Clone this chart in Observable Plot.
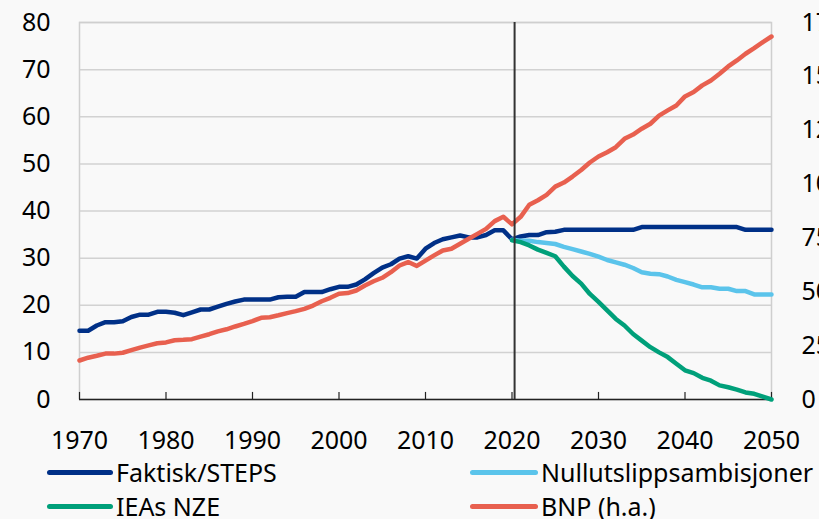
<!DOCTYPE html>
<html><head><meta charset="utf-8">
<script src="https://cdn.jsdelivr.net/npm/d3@7"></script>
<script src="https://cdn.jsdelivr.net/npm/@observablehq/plot@0.6"></script>
<style>
html,body{margin:0;padding:0;background:#f9f9f9;}
#wrap{position:relative;width:819px;height:519px;overflow:hidden;background:#f9f9f9;font-family:"Noto Sans",sans-serif;}
.leg{position:absolute;display:flex;align-items:center;font-size:25px;color:#000;white-space:nowrap;line-height:1;}
.leg .sw{display:inline-block;height:5px;border-radius:3px;margin-right:3px;}
</style></head><body>
<div id="wrap"><div id="chart"></div></div>
<script>
// ---- data ----
const allYears = d3.range(1970, 2051);          // 1970..2050
const scenYears = d3.range(2020, 2051);         // 2020..2050
const faktiskSteps = [
  14.6,14.6,15.7,16.4,16.4,16.6,17.5,18.0,18.0,18.6,
  18.6,18.4,17.9,18.5,19.1,19.1,19.7,20.3,20.8,21.2,
  21.2,21.2,21.2,21.7,21.8,21.8,22.8,22.8,22.8,23.4,
  23.9,23.9,24.4,25.5,26.8,28.0,28.7,29.9,30.4,29.9,
  32.0,33.2,34.0,34.4,34.8,34.4,34.4,34.9,35.9,35.9,
  34.0,34.6,34.9,34.9,35.5,35.6,36.0,36.0,36.0,36.0,
  36.0,36.0,36.0,36.0,36.0,36.6,36.6,36.6,36.6,36.6,
  36.6,36.6,36.6,36.6,36.6,36.6,36.6,36.0,36.0,36.0,
  36.0
];
const nullutslipp = [
  33.9,33.7,33.7,33.4,33.2,33.0,32.4,31.9,31.4,30.9,
  30.3,29.6,29.1,28.6,27.9,27.0,26.7,26.6,26.1,25.4,
  24.9,24.4,23.8,23.8,23.5,23.5,23.0,23.0,22.3,22.3,
  22.3
];
const ieaNze = [
  33.8,33.4,32.7,31.8,31.1,30.4,28.2,26.2,24.6,22.4,
  20.7,18.9,17.1,15.7,13.9,12.5,11.1,10.0,9.0,7.6,
  6.2,5.6,4.6,4.0,3.0,2.6,2.1,1.5,1.2,0.6,
  0.0
];
const bnp = [ // right axis
  18.1,19.4,20.3,21.3,21.3,21.7,22.9,24.1,25.1,26.1,
  26.5,27.5,27.7,28.0,29.2,30.3,31.6,32.6,33.9,35.1,
  36.4,37.9,38.2,39.1,40.1,41.0,42.1,43.6,45.6,47.2,
  49.1,49.4,50.6,52.9,54.9,56.5,59.1,62.2,63.8,62.0,
  64.5,66.9,69.2,70.0,72.3,74.6,76.9,79.2,82.8,84.8,
  81.3,84.8,90.4,92.5,95.0,98.8,100.7,103.5,106.5,110.0,
  112.8,114.8,117.1,121.0,123.0,125.7,128.0,131.8,134.2,136.5,
  140.7,142.7,145.8,148.1,151.2,154.6,157.4,160.5,163.1,165.9,
  168.5
];
const leftTicks = [0,10,20,30,40,50,60,70,80];
const rightTicks = [0,25,50,75,100,125,150,175];
const xTicks = [1970,1980,1990,2000,2010,2020,2030,2040,2050];
const dividerYear = [2020.3];
const leftMax = 80, rightMax = 175;
const toLeft = v => v * leftMax / rightMax;

const seriesNames = ["Faktisk/STEPS","Nullutslippsambisjoner","IEAs NZE","BNP (h.a.)"];
const seriesColors = ["#003087","#5bc4eb","#00a07a","#e8604f"];

// ---- tables ----
const tFaktisk = allYears.map((y,i)=>({year:y, v:faktiskSteps[i]}));
const tNull = scenYears.map((y,i)=>({year:y, v:nullutslipp[i]}));
const tNze = scenYears.map((y,i)=>({year:y, v:ieaNze[i]}));
const tBnp = allYears.map((y,i)=>({year:y, v:toLeft(bnp[i])}));

const lineOpts = (c) => ({x:"year", y:"v", stroke:c, strokeWidth:4.5, strokeLinejoin:"round", strokeLinecap:"round"});

const chart = Plot.plot({
  width: 819, height: 460,
  marginTop: 22, marginBottom: 61, marginLeft: 79, marginRight: 48,
  style: {background:"#f9f9f9", fontFamily:"'Noto Sans', sans-serif", fontSize:"25px", color:"#000", overflow:"visible"},
  x: {domain:[1970,2050]},
  y: {domain:[0,leftMax]},
  marks: [
    Plot.gridY(leftTicks.filter(d=>d>0), {stroke:"#d2d2d2", strokeOpacity:1, strokeWidth:1.5}),
    Plot.frame({stroke:"#cfcfcf", strokeWidth:1.5}),
    Plot.axisY(leftTicks, {anchor:"left", tickSize:0, tickPadding:29, label:null, fontSize:25}),
    Plot.axisY(rightTicks.map(toLeft), {anchor:"right", tickSize:0, tickPadding:30, label:null, fontSize:25,
      tickFormat: d => String(Math.round(d*rightMax/leftMax)), textAnchor:"start"}),
    Plot.axisX(xTicks, {anchor:"bottom", tickSize:0, tickPadding:32, label:null, tickFormat: d => String(d), fontSize:25}),
    Plot.ruleX(xTicks, {y1:0, y2:1.5, stroke:"#222", strokeWidth:1.2}),
    Plot.ruleY([0], {stroke:"#222", strokeWidth:1.5}),
    Plot.line(tFaktisk, lineOpts(seriesColors[0])),
    Plot.line(tNull, lineOpts(seriesColors[1])),
    Plot.line(tNze, lineOpts(seriesColors[2])),
    Plot.line(tBnp, lineOpts(seriesColors[3])),
    Plot.ruleX(dividerYear, {stroke:"#333", strokeWidth:2})
  ]
});
document.getElementById("chart").appendChild(chart);

// ---- legend ----
const legPos = [[47,472,66],[470,472,68],[47,506,66],[470,506,68]];
const wrap = document.getElementById("wrap");
seriesNames.forEach((name,i)=>{
  const [lx,ly,w] = legPos[i];
  const d = document.createElement("div");
  d.className = "leg";
  d.style.left = lx + "px";
  d.style.top = (ly - 13) + "px";
  d.style.height = "26px";
  const sw = document.createElement("span");
  sw.className = "sw";
  sw.style.width = w + "px";
  sw.style.background = seriesColors[i];
  const tx = document.createElement("span");
  tx.textContent = name;
  d.appendChild(sw); d.appendChild(tx);
  wrap.appendChild(d);
});
</script>
</body></html>
